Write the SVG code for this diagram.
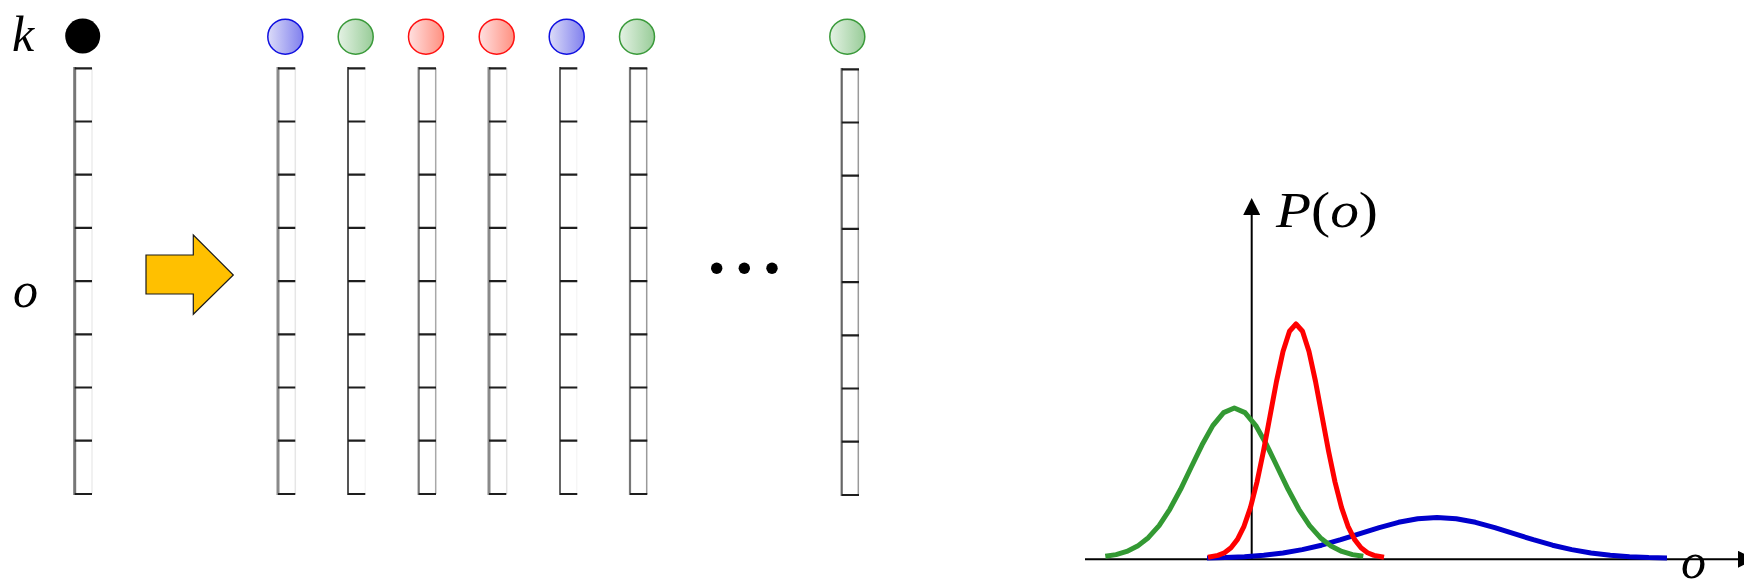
<svg xmlns="http://www.w3.org/2000/svg" width="1744" height="587" viewBox="0 0 1744 587">
<style>
.math{font-family:"Liberation Serif","DejaVu Serif",serif;font-style:italic;font-size:50px;fill:#000}
.up{font-style:normal}
.lft{stroke:#8a8a8a;stroke-width:3;fill:none}
.tick{stroke:#1e1e1e;stroke-width:2.2;fill:none}
.curve{fill:none;stroke-width:5;stroke-linejoin:round;stroke-linecap:butt}
.axis{stroke:#000;stroke-width:2;fill:none}
</style>
<defs>
<linearGradient id="gb" x1="0" y1="0" x2="1" y2="0"><stop offset="0" stop-color="#dcdcf8"/><stop offset="1" stop-color="#8080ee"/></linearGradient>
<linearGradient id="gg" x1="0" y1="0" x2="1" y2="0"><stop offset="0" stop-color="#e4f2e4"/><stop offset="1" stop-color="#98cc98"/></linearGradient>
<linearGradient id="gr" x1="0" y1="0" x2="1" y2="0"><stop offset="0" stop-color="#ffe0e0"/><stop offset="1" stop-color="#ff9080"/></linearGradient>
<g id="ticks">
<path class="tick" d="M0,68.3h17.3M0,121.5h17.3M0,174.7h17.3M0,227.9h17.3M0,281.1h17.3M0,334.3h17.3M0,387.5h17.3M0,440.7h17.3M0,494h17.3"/>
</g>
<marker id="ah" viewBox="0 0 10 10" refX="0" refY="5" markerWidth="17" markerHeight="17" markerUnits="userSpaceOnUse" orient="auto"><path d="M0,0L10,5L0,10z" fill="#000"/></marker>
</defs>
<rect width="1744" height="587" fill="#fff"/>

<g id="col0">
<text class="math" x="12" y="51">k</text>
<text class="math" x="13" y="307">o</text>
<circle cx="82.7" cy="36" r="17.5" fill="#000"/>
<line x1="92" y1="68" x2="92" y2="494" stroke="#ececec" stroke-width="1.5"/>
<line class="lft" x1="74.7" y1="67" x2="74.7" y2="495" style="stroke:#777"/>
<use href="#ticks" x="74.7"/>
</g>

<g id="col1">
<circle cx="285.3" cy="36.7" r="17.5" fill="url(#gb)" stroke="#1010e0" stroke-width="1.5"/>
<line x1="295.3" y1="68" x2="295.3" y2="494" stroke="#e6e6e6" stroke-width="1.5"/>
<line class="lft" x1="278" y1="67" x2="278" y2="495" stroke="#999"/>
<use href="#ticks" x="278"/>
</g>
<g id="col2">
<circle cx="355.7" cy="36.7" r="17.5" fill="url(#gg)" stroke="#3a9a3a" stroke-width="1.5"/>
<line x1="365.3" y1="68" x2="365.3" y2="494" stroke="#f6f6f6" stroke-width="1.5"/>
<line class="lft" x1="348" y1="67" x2="348" y2="495" style="stroke:#555;stroke-width:2"/>
<use href="#ticks" x="348"/>
</g>
<g id="col3">
<circle cx="426" cy="36.7" r="17.5" fill="url(#gr)" stroke="#ff1010" stroke-width="1.5"/>
<line x1="435.7" y1="68" x2="435.7" y2="494" stroke="#a8a8a8" stroke-width="1.5"/>
<line class="lft" x1="418.7" y1="67" x2="418.7" y2="495" style="stroke:#777;stroke-width:2.2"/>
<use href="#ticks" x="418.7"/>
</g>
<g id="col4">
<circle cx="496.7" cy="36.7" r="17.5" fill="url(#gr)" stroke="#ff1010" stroke-width="1.5"/>
<line x1="506.7" y1="68" x2="506.7" y2="494" stroke="#e2e2e2" stroke-width="1.5"/>
<line class="lft" x1="489" y1="67" x2="489" y2="495"/>
<use href="#ticks" x="489"/>
</g>
<g id="col5">
<circle cx="566.7" cy="36.7" r="17.5" fill="url(#gb)" stroke="#1010e0" stroke-width="1.5"/>
<line x1="576.7" y1="68" x2="576.7" y2="494" stroke="#f6f6f6" stroke-width="1.5"/>
<line class="lft" x1="560" y1="67" x2="560" y2="495" style="stroke:#666;stroke-width:2"/>
<use href="#ticks" x="560"/>
</g>
<g id="col6">
<circle cx="637" cy="36.7" r="17.5" fill="url(#gg)" stroke="#3a9a3a" stroke-width="1.5"/>
<line x1="646.7" y1="68" x2="646.7" y2="494" stroke="#9a9a9a" stroke-width="1.5"/>
<line class="lft" x1="630" y1="67" x2="630" y2="495" style="stroke:#777;stroke-width:2.2"/>
<use href="#ticks" x="630"/>
</g>
<g id="dots">
<circle cx="716.7" cy="268.3" r="5.7" fill="#000"/>
<circle cx="744.3" cy="268.3" r="5.7" fill="#000"/>
<circle cx="772" cy="268.3" r="5.7" fill="#000"/>
</g>
<g id="col7">
<circle cx="847.3" cy="36.7" r="17.5" fill="url(#gg)" stroke="#3a9a3a" stroke-width="1.5"/>
<line x1="858.3" y1="69" x2="858.3" y2="495" stroke="#9a9a9a" stroke-width="1.5"/>
<line class="lft" x1="841.7" y1="68" x2="841.7" y2="496" style="stroke:#666;stroke-width:2.2"/>
<use href="#ticks" x="841.7" y="1"/>
</g>

<g id="connectors">
<polygon points="146,255 193.3,255 193.3,235 233.3,275 193.3,314.3 193.3,294 146,294" fill="#ffc000" stroke="#1a1a1a" stroke-width="1.2" stroke-linejoin="miter"/>
</g>

<g id="chart">
<line class="axis" x1="1085" y1="559.3" x2="1738" y2="559.3" marker-end="url(#ah)"/>
<line class="axis" x1="1251.7" y1="559.3" x2="1251.7" y2="215" marker-end="url(#ah)"/>
<text class="math" x="1276" y="227" textLength="102" lengthAdjust="spacingAndGlyphs">P<tspan class="up">(</tspan>o<tspan class="up">)</tspan></text>
<text class="math" x="1681" y="578" font-size="46">o</text>
<path class="curve" stroke="#0000cc" stroke-width="5.5" d="M1207,558 L1225.25,557.6 L1244.5,556.7 L1263.75,555.2 L1283,553 L1302.25,549.6 L1321.5,545.2 L1340.75,539.7 L1360,533.6 L1379.25,527.6 L1398.5,522.3 L1417.75,518.8 L1437,517.5 L1456.25,518.8 L1475.5,522.3 L1494.75,527.6 L1514,533.6 L1533.25,539.7 L1552.5,545.2 L1571.75,549.6 L1591,553 L1610.25,555.2 L1629.5,556.7 L1648.75,557.6 L1667,558"/>
<path class="curve" stroke="#339933" stroke-width="5.3" d="M1105.3,556.3 L1116.05,554.6 L1126.8,551.4 L1137.55,546.1 L1148.3,537.7 L1159.1,525.6 L1169.8,509.3 L1180.6,489.3 L1191.3,467 L1202.1,444.8 L1212.8,425.6 L1223.6,412.6 L1234.3,408 L1245,412.6 L1255.8,425.6 L1266.6,444.8 L1277.3,467 L1288.1,489.3 L1298.8,509.3 L1309.6,525.6 L1320.3,537.7 L1331.05,546.1 L1341.8,551.4 L1352.55,554.6 L1363.3,556.3"/>
<path class="curve" stroke="#ff0000" d="M1208,557.2 L1218,555.4 L1224.5,552.7 L1231,547.7 L1237.5,539.4 L1244,526.3 L1250.5,507.4 L1257,482 L1263.5,450.9 L1270,416.1 L1276.5,381.4 L1283,351.5 L1289.5,331.2 L1296,324 L1302.5,331.2 L1309,351.5 L1315.5,381.4 L1322,416.1 L1328.5,450.9 L1335,482 L1341.5,507.4 L1348,526.3 L1354.5,539.4 L1361,547.7 L1367.5,552.7 L1374,555.4 L1384,557.2"/>
</g>
</svg>
